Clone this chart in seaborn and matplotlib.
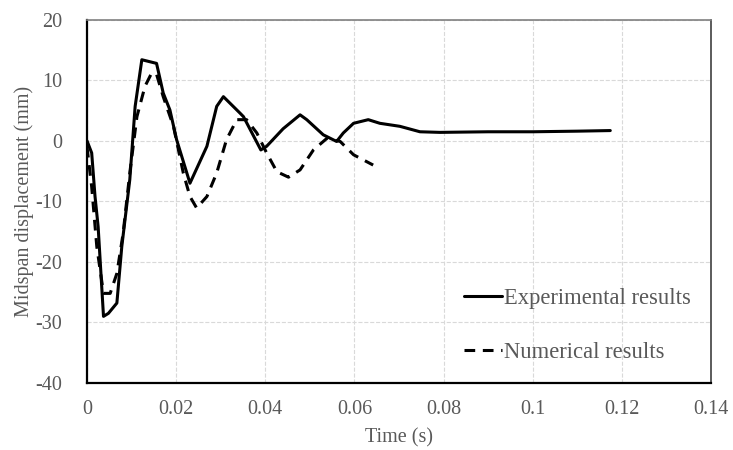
import matplotlib
matplotlib.use('Agg')
import matplotlib.pyplot as plt
import numpy as np
import pandas as pd
import seaborn as sns

# experimental (solid) curve
exp_t = [0.0, 0.00105, 0.0018, 0.0025, 0.0037, 0.0048, 0.0067, 0.0078, 0.0096,
         0.0108, 0.0123, 0.0156, 0.0171, 0.0186, 0.0201, 0.0231, 0.0269, 0.0291,
         0.0306, 0.0343, 0.0351, 0.0390, 0.0403, 0.0440, 0.0478, 0.0493, 0.0530,
         0.0560, 0.0575, 0.0598, 0.0631, 0.0657, 0.0702, 0.0747, 0.0792, 0.0900,
         0.1000, 0.1100, 0.1174]
exp_v = [0.0, -2.0, -9.2, -14.2, -29.0, -28.5, -26.8, -17.5, -6.4,
         5.7, 13.4, 12.8, 7.9, 5.1, 0.2, -7.0, -0.9, 5.7,
         7.3, 4.6, 4.0, -1.5, -0.9, 2.0, 4.3, 3.5, 1.0,
         -0.1, 1.3, 2.9, 3.5, 2.9, 2.4, 1.5, 1.4, 1.5,
         1.5, 1.6, 1.7]

# numerical (dashed) curve
num_t = [0.0, 0.00105, 0.0022, 0.0037, 0.0052, 0.0067, 0.0081, 0.0096, 0.0112,
         0.0130, 0.0145, 0.0156, 0.0171, 0.0194, 0.0216, 0.0231, 0.0246, 0.0269,
         0.0291, 0.0313, 0.0336, 0.0358, 0.0381, 0.0403, 0.0426, 0.0452, 0.0478,
         0.0508, 0.0538, 0.0568, 0.0598, 0.0642]
num_v = [-1.0, -7.6, -17.5, -25.2, -25.2, -21.9, -15.3, -5.3, 4.0,
         9.0, 11.2, 11.0, 7.3, 2.4, -5.3, -9.2, -11.1, -9.2,
         -5.3, 0.2, 3.5, 3.5, 1.3, -2.0, -5.1, -6.0, -4.8,
         -1.5, 0.4, -0.1, -2.3, -4.0]

xticks = [0, 0.02, 0.04, 0.06, 0.08, 0.1, 0.12, 0.14]
xtick_labels = ['0', '0.02', '0.04', '0.06', '0.08', '0.1', '0.12', '0.14']
yticks = [-40, -30, -20, -10, 0, 10, 20]
ytick_labels = ['-40', '-30', '-20', '-10', '0', '10', '20']

sns.set_style('white')
plt.rcParams['font.family'] = ['Liberation Serif', 'DejaVu Serif']
text_color = '#595959'

exp_df = pd.DataFrame({'t': exp_t, 'v': exp_v})
num_df = pd.DataFrame({'t': num_t, 'v': num_v})

fig = plt.figure(figsize=(7.33, 4.5), dpi=100)
ax = fig.add_axes([0.1187, 0.149, 0.8513, 0.807])

sns.lineplot(data=exp_df, x='t', y='v', ax=ax, color='black', linewidth=2.2,
             label='Experimental results', sort=False)
sns.lineplot(data=num_df, x='t', y='v', ax=ax, color='black', linewidth=2.2,
             linestyle=(0, (3.5, 2.5)), label='Numerical results', sort=False)

ax.set_xlim(0, 0.14)
ax.set_ylim(-40, 20)
ax.set_xticks(xticks)
ax.set_xticklabels(xtick_labels)
ax.set_yticks(yticks)
ax.set_yticklabels(ytick_labels)
ax.tick_params(axis='x', labelsize=14.5, colors=text_color, length=0, pad=12)
ax.tick_params(axis='y', labelsize=14.5, colors=text_color, length=0, pad=18)
ax.grid(True, color='#d9d9d9', linestyle='--', linewidth=0.8)
ax.set_xlabel('Time (s)', fontsize=14.5, color=text_color, labelpad=7)
ax.set_ylabel('Midspan displacement (mm)', fontsize=14.5, color=text_color, labelpad=1)

ax.spines['left'].set_color('black')
ax.spines['left'].set_linewidth(1.6)
ax.spines['bottom'].set_color('black')
ax.spines['bottom'].set_linewidth(1.6)
ax.spines['top'].set_color('#808080')
ax.spines['top'].set_linewidth(1.2)
ax.spines['right'].set_color('#404040')
ax.spines['right'].set_linewidth(1.2)

leg = ax.legend(loc='lower left', bbox_to_anchor=(0.571, 0.0), frameon=False,
                fontsize=16.3, handlelength=1.7, handletextpad=0.1,
                labelspacing=1.45)
for t in leg.get_texts():
    t.set_color(text_color)

fig.savefig('out.png', dpi=100)
